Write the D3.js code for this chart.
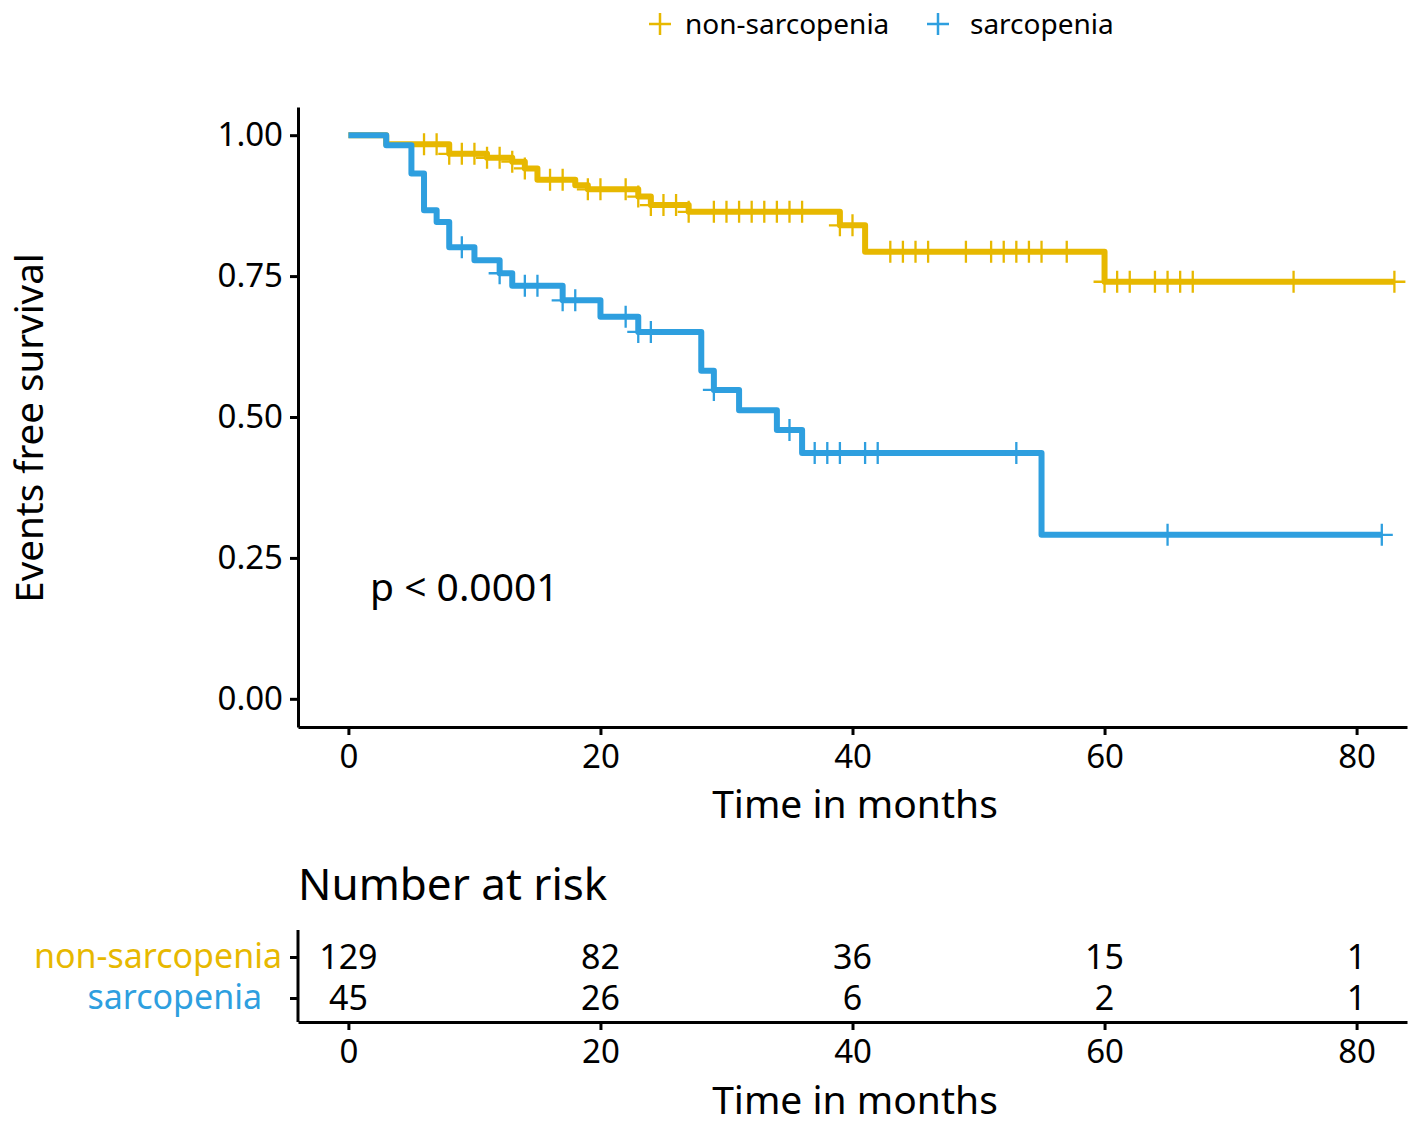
<!DOCTYPE html>
<html>
<head>
<meta charset="utf-8">
<script src="https://cdn.jsdelivr.net/npm/d3@7"></script>
<style>
  body { margin: 0; background: #fff; }
  text { font-family: "Noto Sans", "Open Sans", sans-serif; fill: #000; }
</style>
</head>
<body>
<div id="chart"></div>
<script>
// Kaplan-Meier steps: [time, survival after event]
const groups = ["non-sarcopenia", "sarcopenia"];
const colors = ["#E7B800", "#2E9FDF"];

const nonSarcSteps = [
  [0, 1], [3, 0.984], [8, 0.967], [11, 0.960], [13, 0.953], [14, 0.941],
  [15, 0.921], [18, 0.911], [19, 0.904], [23, 0.891], [24, 0.876],
  [27, 0.864], [39, 0.840], [41, 0.793], [60, 0.740]
];
const nonSarcEnd = 83;
const nonSarcCensor = [6, 7, 8, 9, 10, 11, 12, 13, 14, 16, 17, 19, 20, 22, 23, 24,
  25, 26, 27, 29, 30, 31, 32, 33, 34, 35, 36, 39, 40, 43, 44, 45, 46, 49, 51,
  52, 53, 54, 55, 57, 60, 61, 62, 64, 65, 66, 67, 75, 83];

const sarcSteps = [
  [0, 1], [3, 0.982], [5, 0.932], [6, 0.867], [7, 0.846], [8, 0.801],
  [10, 0.778], [12, 0.755], [13, 0.733], [17, 0.707], [20, 0.678],
  [23, 0.651], [28, 0.582], [29, 0.548], [31, 0.512], [34, 0.477],
  [36, 0.436], [55, 0.291]
];
const sarcEnd = 82;
const sarcCensor = [9, 12, 14, 15, 17, 18, 22, 23, 24, 29, 35, 37, 38, 39, 41,
  42, 53, 65, 82];

const xTicks = [0, 20, 40, 60, 80];
const yTicks = [0, 0.25, 0.5, 0.75, 1];
const riskNonSarc = [129, 82, 36, 15, 1];
const riskSarc = [45, 26, 6, 2, 1];

const W = 1417, H = 1124;
const svg = d3.select("#chart").append("svg")
  .attr("width", W).attr("height", H);

const x = d3.scaleLinear().domain([-4, 84]).range([298, 1407]);
const y = d3.scaleLinear().domain([-0.05, 1.05]).range([727, 107]);

// axes
const yAxis = svg.append("g")
  .attr("transform", "translate(298,0)")
  .call(d3.axisLeft(y).tickValues(yTicks).tickFormat(d3.format(".2f"))
    .tickSize(8).tickSizeOuter(0).tickPadding(7));
const xAxis = svg.append("g")
  .attr("transform", "translate(0,727)")
  .call(d3.axisBottom(x).tickValues(xTicks).tickSize(8).tickSizeOuter(0).tickPadding(10));

[yAxis, xAxis].forEach(a => {
  a.select(".domain").attr("stroke", "#000").attr("stroke-width", 3);
  a.selectAll(".tick line").attr("stroke", "#000").attr("stroke-width", 3);
  a.selectAll("text").style("font-size", "33px").attr("fill", "#000");
});

svg.append("text")
  .attr("transform", "translate(43,428) rotate(-90)")
  .attr("text-anchor", "middle")
  .style("font-size", "38.5px")
  .text("Events free survival");

svg.append("text")
  .attr("x", 855).attr("y", 818)
  .attr("text-anchor", "middle")
  .style("font-size", "39px")
  .text("Time in months");

// curves
function survAt(steps, t) {
  let s = 1;
  steps.forEach(d => { if (d[0] <= t) s = d[1]; });
  return s;
}

const series = [
  { steps: nonSarcSteps, end: nonSarcEnd, censor: nonSarcCensor, color: colors[0] },
  { steps: sarcSteps, end: sarcEnd, censor: sarcCensor, color: colors[1] }
];

const line = d3.line()
  .x(d => x(d[0])).y(d => y(d[1]))
  .curve(d3.curveStepAfter);

const plus = 11;
series.forEach(s => {
  const pts = s.steps.concat([[s.end, s.steps[s.steps.length - 1][1]]]);
  svg.append("path")
    .attr("d", line(pts))
    .attr("fill", "none")
    .attr("stroke", s.color)
    .attr("stroke-width", 6)
    .attr("stroke-linejoin", "round");

  svg.append("g").selectAll("path")
    .data(s.censor)
    .join("path")
    .attr("d", t => {
      const cx = x(t), cy = y(survAt(s.steps, t));
      return `M${cx - plus},${cy}H${cx + plus}M${cx},${cy - plus}V${cy + plus}`;
    })
    .attr("stroke", s.color)
    .attr("stroke-width", 2.3)
    .attr("fill", "none");
});

svg.append("text")
  .attr("x", 370).attr("y", 601)
  .style("font-size", "39px")
  .text("p < 0.0001");

// legend
const legendPos = [[660, 685], [938, 970]];
groups.forEach((g, i) => {
  const [px, tx] = legendPos[i];
  svg.append("path")
    .attr("d", `M${px - 11},24H${px + 11}M${px},13V35`)
    .attr("stroke", colors[i]).attr("stroke-width", 2.5);
  svg.append("text")
    .attr("x", tx).attr("y", 34)
    .style("font-size", "28px")
    .text(g);
});

// risk table
svg.append("text")
  .attr("x", 298).attr("y", 900)
  .style("font-size", "44px")
  .text("Number at risk");

const rowY = d3.scalePoint().domain(groups).range([957, 998]);

const rx = svg.append("g")
  .attr("transform", "translate(0,1022)")
  .call(d3.axisBottom(x).tickValues(xTicks).tickSize(8).tickSizeOuter(0).tickPadding(10));
const ry = svg.append("g")
  .attr("transform", "translate(298,0)")
  .call(d3.axisLeft(rowY).tickSize(8).tickPadding(6));
svg.append("line")
  .attr("x1", 298).attr("x2", 298).attr("y1", 930).attr("y2", 1022)
  .attr("stroke", "#000").attr("stroke-width", 3);

[rx, ry].forEach(a => {
  a.select(".domain").attr("stroke", "#000").attr("stroke-width", 3);
  a.selectAll(".tick line").attr("stroke", "#000").attr("stroke-width", 3);
  a.selectAll("text").style("font-size", "33px");
});
ry.select(".domain").remove();
ry.selectAll("text")
  .style("font-size", "34px")
  .style("fill", (d, i) => colors[i])
  .attr("x", (d, i) => i === 0 ? -16 : -36);

[riskNonSarc, riskSarc].forEach((row, i) => {
  svg.append("g").selectAll("text")
    .data(row)
    .join("text")
    .attr("x", (d, j) => x(xTicks[j]))
    .attr("y", rowY(groups[i]))
    .attr("dy", "0.35em")
    .attr("text-anchor", "middle")
    .style("font-size", "34px")
    .text(d => d);
});

svg.append("text")
  .attr("x", 855).attr("y", 1114)
  .attr("text-anchor", "middle")
  .style("font-size", "39px")
  .text("Time in months");
</script>
</body>
</html>
